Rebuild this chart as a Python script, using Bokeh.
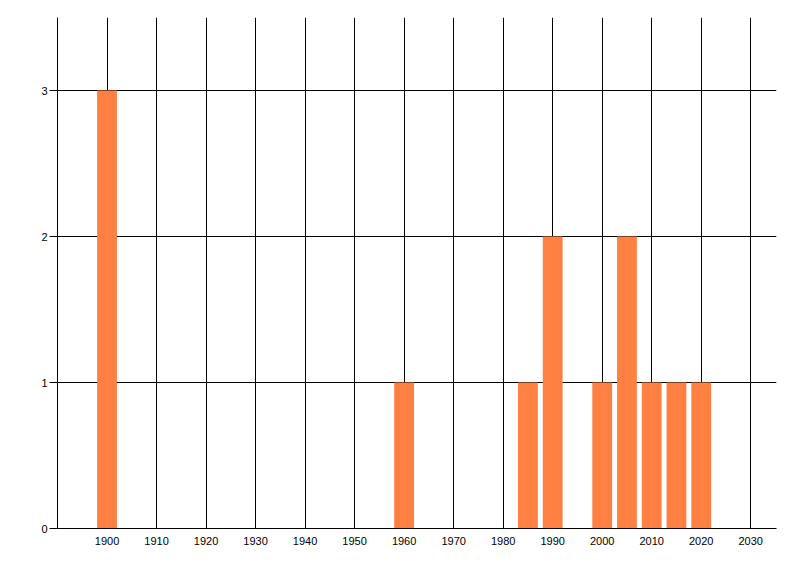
from bokeh.plotting import figure
from bokeh.models import FixedTicker, Range1d
from bokeh.embed import file_html
from bokeh.resources import INLINE

years = [1900, 1960, 1985, 1990, 2000, 2005, 2010, 2015, 2020]
counts = [3, 1, 1, 2, 1, 2, 1, 1, 1]
x_ticks = [1900, 1910, 1920, 1930, 1940, 1950, 1960, 1970, 1980, 1990, 2000, 2010, 2020, 2030]
y_ticks = [0, 1, 2, 3]

p = figure(width=792, height=568, output_backend="svg", toolbar_location=None,
           x_range=Range1d(1890, 2035.2), y_range=Range1d(0, 3.5),
           min_border_left=57, min_border_right=16, min_border_top=17, min_border_bottom=40)
p.outline_line_color = None
p.background_fill_color = "white"
p.border_fill_color = "white"

p.vbar(x=years, top=counts, bottom=0, width=4, fill_color="#FF8040", line_color=None)

p.xaxis.ticker = FixedTicker(ticks=x_ticks)
p.yaxis.ticker = FixedTicker(ticks=y_ticks)
for ax in (p.xaxis[0], p.yaxis[0]):
    ax.axis_line_color = "black"
    ax.axis_line_width = 1
    ax.major_label_text_font = "Liberation Sans"
    ax.major_label_text_font_size = "11px"
    ax.major_label_text_color = "black"
    ax.minor_tick_line_color = None
    ax.major_tick_in = 0
p.xaxis.major_tick_out = 0
p.xaxis.major_label_standoff = 8
p.yaxis.major_tick_out = 8
p.yaxis.major_tick_line_color = "black"
p.yaxis.major_label_standoff = 2

p.xgrid.ticker = FixedTicker(ticks=x_ticks)
p.ygrid.ticker = FixedTicker(ticks=y_ticks)
for g in (p.xgrid[0], p.ygrid[0]):
    g.grid_line_color = "black"
    g.grid_line_width = 1
    g.grid_line_alpha = 1.0

open("out.html", "w").write(file_html(p, INLINE))
